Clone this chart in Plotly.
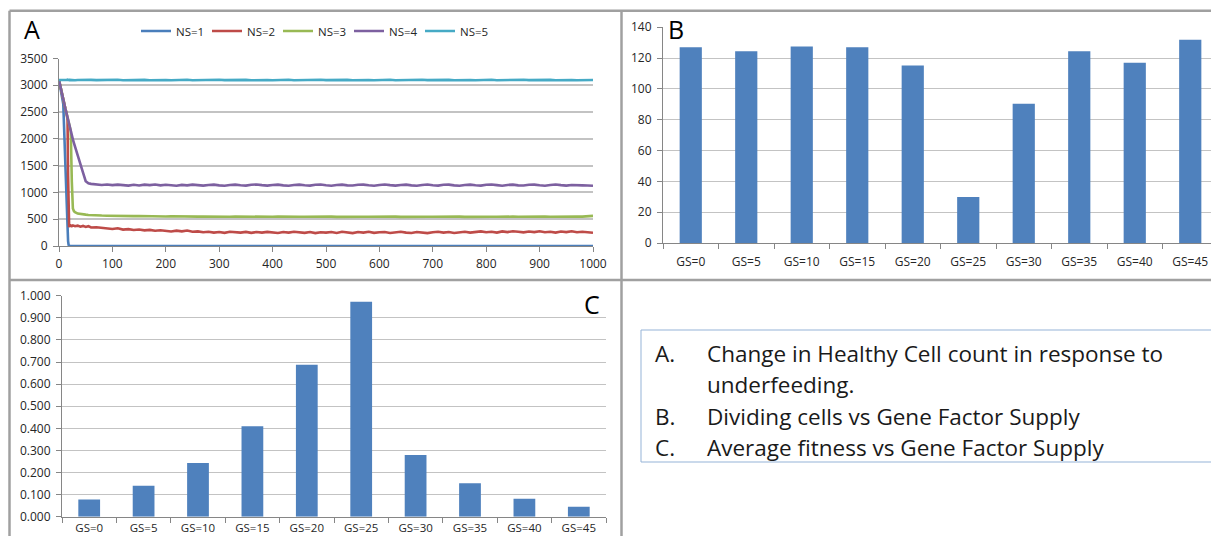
import plotly.graph_objects as go

# The page body keeps its default 8px margin, so the figure is sized to fit the 1219x544 window.
REF_W, REF_H = 1219, 544
OFF = 8
W, H = REF_W - 2 * OFF, REF_H - 2 * OFF

# ---------------- Panel A data ----------------
t_early = [0, 4, 8, 12, 14, 16, 17, 18, 19, 20, 22, 24, 26, 28, 30, 35, 40, 45, 50, 55, 60]
t_late = list(range(70, 1001, 10))
t_full = t_early + t_late

ns1_t = [0, 4, 8, 12, 14, 16, 17, 18, 19, 20, 1000]
ns1_v = [3100, 2900, 2650, 1500, 800, 250, 90, 20, 0, 0, 0]

ns2_early = [3100, 2900, 2720, 2560, 2480, 2350, 1300, 550, 350, 400, 380, 370, 385, 375, 370, 380, 360, 375, 355, 370, 345]
ns2_late = [350, 338, 326, 318, 330, 306, 314, 300, 308, 292,
            300, 286, 294, 280, 272, 286, 274, 290, 266, 272,
            256, 266, 250, 260, 246, 266, 254, 250, 264, 246,
            260, 250, 264, 254, 244, 260, 250, 266, 254, 246,
            260, 240, 256, 250, 260, 244, 266, 250, 240, 260,
            250, 266, 246, 256, 260, 244, 256, 266, 250, 244,
            260, 250, 240, 256, 266, 250, 260, 244, 256, 266,
            250, 262, 272, 256, 266, 250, 272, 260, 276, 266,
            254, 270, 260, 276, 256, 266, 250, 270, 260, 276,
            256, 266, 250, 246]

ns3_early = [3100, 2900, 2720, 2560, 2480, 2390, 2350, 2310, 2270, 2230, 2150, 1200, 700, 650, 630, 605, 595, 590, 585, 580, 575]
ns3_late = [572, 568, 566, 562, 564, 560, 562, 558, 560, 556,
            558, 554, 556, 552, 555, 551, 554, 550, 553, 549,
            552, 548, 551, 547, 550, 546, 549, 547, 550, 546,
            549, 545, 548, 546, 549, 545, 548, 544, 547, 545,
            548, 544, 547, 545, 548, 544, 547, 545, 548, 544,
            547, 545, 548, 544, 547, 545, 548, 544, 547, 545,
            548, 544, 547, 545, 548, 544, 547, 545, 548, 544,
            547, 545, 548, 544, 547, 545, 549, 545, 548, 546,
            549, 545, 548, 546, 550, 546, 549, 547, 551, 548,
            552, 549, 556, 562]

ns4_early = [3100, 2900, 2720, 2560, 2480, 2390, 2350, 2310, 2270, 2230, 2150, 2070, 1990, 1920, 1850, 1700, 1530, 1370, 1210, 1170, 1160]
ns4_late = [1150, 1140, 1148, 1136, 1146, 1134, 1128, 1142, 1130, 1146,
            1136, 1148, 1132, 1144, 1130, 1126, 1140, 1132, 1146, 1134,
            1128, 1140, 1146, 1132, 1126, 1138, 1146, 1134, 1128, 1142,
            1148, 1136, 1128, 1140, 1146, 1132, 1126, 1138, 1146, 1134,
            1128, 1142, 1148, 1134, 1126, 1140, 1146, 1132, 1128, 1142,
            1146, 1134, 1126, 1138, 1148, 1136, 1128, 1140, 1146, 1132,
            1126, 1140, 1148, 1134, 1128, 1142, 1146, 1132, 1126, 1138,
            1146, 1134, 1128, 1142, 1148, 1136, 1126, 1140, 1146, 1132,
            1128, 1142, 1146, 1134, 1126, 1138, 1148, 1136, 1128, 1140,
            1142, 1132, 1128, 1124]

ns5_early = [3100, 3096, 3102, 3095, 3099, 3104, 3097, 3101, 3095, 3100, 3098, 3103, 3096, 3100, 3094, 3099, 3102, 3096, 3100, 3097, 3101]
ns5_late = [3096, 3100, 3094, 3098, 3102, 3095, 3099, 3093, 3097, 3101,
            3095, 3099, 3103, 3096, 3094, 3100, 3097, 3102, 3095, 3098,
            3101, 3094, 3098, 3103, 3096, 3100, 3093, 3097, 3101, 3095,
            3099, 3102, 3096, 3094, 3100, 3097, 3103, 3095, 3098, 3101,
            3094, 3099, 3102, 3096, 3100, 3093, 3097, 3101, 3095, 3099,
            3103, 3096, 3094, 3100, 3097, 3102, 3095, 3098, 3101, 3094,
            3098, 3103, 3096, 3100, 3093, 3097, 3101, 3095, 3099, 3102,
            3096, 3094, 3100, 3097, 3103, 3095, 3098, 3101, 3094, 3099,
            3102, 3096, 3100, 3093, 3097, 3101, 3095, 3099, 3103, 3096,
            3094, 3100, 3097, 3098]

series_names = ["NS=1", "NS=2", "NS=3", "NS=4", "NS=5"]
series_colors = ["#4A7EBB", "#BE4B48", "#98B954", "#7D60A0", "#46AAC5"]

a_xticks = [0, 100, 200, 300, 400, 500, 600, 700, 800, 900, 1000]
a_yticks = [0, 500, 1000, 1500, 2000, 2500, 3000, 3500]

# ---------------- Panel B / C data ----------------
gs_labels = ["GS=0", "GS=5", "GS=10", "GS=15", "GS=20", "GS=25", "GS=30", "GS=35", "GS=40", "GS=45"]
dividing_cells = [127, 124.4, 127.5, 127, 115.1, 29.9, 90.3, 124.4, 116.9, 131.8]
avg_fitness = [0.078, 0.140, 0.243, 0.409, 0.688, 0.973, 0.279, 0.151, 0.081, 0.045]

caption_marks = ["A.", "", "B.", "C."]
caption_texts = ["Change in Healthy Cell count in response to", "underfeeding.",
                 "Dividing cells vs Gene Factor Supply", "Average fitness vs Gene Factor Supply"]

# reference pixel -> paper coordinate
def px(x):
    return (x - OFF) / W

def py(y):
    return 1 - (y - OFF) / H

FONT = "Open Sans"
TICK_COLOR = "#262626"
AXIS_COLOR = "#868686"
GRID_COLOR = "#c3c3c3"
BAR_COLOR = "#4F81BD"

# panel B spans reference x 663..1218 (10 categories); the window edge cuts it at 1211
B_LEFT, B_RIGHT = 663, 1218
B_CAT = (B_RIGHT - B_LEFT) / 10
B_VISIBLE_RIGHT = OFF + W
b_range_end = -0.5 + (B_VISIBLE_RIGHT - B_LEFT) / B_CAT

fig = go.Figure()

a_series = [
    (ns1_t, ns1_v),
    (t_full, ns2_early + ns2_late),
    (t_full, ns3_early + ns3_late),
    (t_full, ns4_early + ns4_late),
    (t_full, ns5_early + ns5_late),
]
for (tx, vy), name, col in zip(a_series, series_names, series_colors):
    fig.add_trace(go.Scatter(x=tx, y=vy, mode="lines", name=name,
                             line=dict(color=col, width=2.6),
                             xaxis="x", yaxis="y", showlegend=True))

fig.add_trace(go.Bar(x=gs_labels, y=dividing_cells, marker=dict(color=BAR_COLOR, line=dict(width=0)),
                     width=0.4, xaxis="x2", yaxis="y2", showlegend=False))
fig.add_trace(go.Bar(x=gs_labels, y=avg_fitness, marker=dict(color=BAR_COLOR, line=dict(width=0)),
                     width=0.4, xaxis="x3", yaxis="y3", showlegend=False))

tickfont = dict(family=FONT, size=12, color=TICK_COLOR)

common_axis = dict(showline=True, linecolor=AXIS_COLOR, linewidth=1, ticks="outside",
                   tickcolor=AXIS_COLOR, ticklen=5, zeroline=False,
                   fixedrange=True, automargin=False)

fig.update_layout(
    width=W, height=H,
    margin=dict(l=0, r=0, t=0, b=0, pad=0, autoexpand=False),
    paper_bgcolor="white", plot_bgcolor="rgba(0,0,0,0)",
    font=dict(family=FONT, color=TICK_COLOR),
    xaxis=dict(domain=[px(59), px(593)], range=[0, 1000], tickvals=a_xticks, showgrid=False,
               anchor="y", ticklabelstandoff=2, tickfont=tickfont, **common_axis),
    yaxis=dict(domain=[py(246), py(58.5)], range=[0, 3500], tickvals=a_yticks, showgrid=True,
               gridcolor=GRID_COLOR, gridwidth=2, anchor="x", ticklabelstandoff=3, tickfont=tickfont,
               **common_axis),
    xaxis2=dict(domain=[px(B_LEFT), 1], type="category", range=[-0.5, b_range_end], tickson="boundaries",
                showgrid=False, anchor="y2", ticklabelstandoff=8, tickfont=tickfont, **common_axis),
    yaxis2=dict(domain=[py(243), py(27.2)], range=[0, 140], dtick=20, showgrid=True,
                gridcolor=GRID_COLOR, gridwidth=1, anchor="x2", ticklabelstandoff=3, tickfont=tickfont,
                **common_axis),
    xaxis3=dict(domain=[px(62), px(606)], type="category", range=[-0.5, 9.5], tickson="boundaries",
                showgrid=False, anchor="y3", ticklabelstandoff=0,
                tickfont=dict(family=FONT, size=11.5, color=TICK_COLOR), **common_axis),
    yaxis3=dict(domain=[py(516.7), py(295.7)], range=[0, 1], dtick=0.1, tickformat=".3f", showgrid=True,
                gridcolor=GRID_COLOR, gridwidth=1, anchor="x3", ticklabelstandoff=3, tickfont=tickfont,
                **common_axis),
    legend=dict(orientation="h", x=px(136), y=py(31), xanchor="left", yanchor="middle",
                bgcolor="rgba(0,0,0,0)", borderwidth=0, font=dict(family=FONT, size=11.5, color=TICK_COLOR),
                entrywidth=26, entrywidthmode="pixels", tracegroupgap=0, itemwidth=30),
)

# panel borders
BORDER = "#a0a0a0"
shapes = [
    dict(type="line", xref="paper", yref="paper", x0=px(9.5), x1=1.01, y0=py(10.7), y1=py(10.7)),
    dict(type="line", xref="paper", yref="paper", x0=px(9.5), x1=px(9.5), y0=py(10.7), y1=-0.02),
    dict(type="line", xref="paper", yref="paper", x0=px(621.5), x1=px(621.5), y0=py(10.7), y1=-0.02),
    dict(type="line", xref="paper", yref="paper", x0=px(9.5), x1=1.01, y0=py(280), y1=py(280)),
]
for s in shapes:
    s["line"] = dict(color=BORDER, width=2.5)
# caption box
shapes.append(dict(type="rect", xref="paper", yref="paper", x0=px(641), x1=1.02, y0=py(462), y1=py(330),
                   line=dict(color="#95b3d7", width=1), fillcolor="rgba(0,0,0,0)"))
fig.update_layout(shapes=shapes)

# panel letters
letters = [("A", 32, 29), ("B", 676, 29), ("C", 592, 303.5)]
for txt, lx, ly in letters:
    fig.add_annotation(text=txt, x=px(lx), y=py(ly), xref="paper", yref="paper", showarrow=False,
                       xanchor="center", yanchor="middle", font=dict(family=FONT, size=25, color="black"))

# caption lines
cap_y = [353, 384, 416, 447]
for mark, txt, yy in zip(caption_marks, caption_texts, cap_y):
    if mark:
        fig.add_annotation(text=mark, x=px(653), y=py(yy), xref="paper", yref="paper", showarrow=False,
                           xanchor="left", yanchor="middle", font=dict(family=FONT, size=22.5, color="#1a1a1a"))
    fig.add_annotation(text=txt, x=px(705), y=py(yy), xref="paper", yref="paper", showarrow=False,
                       xanchor="left", yanchor="middle", font=dict(family=FONT, size=22.5, color="#1a1a1a"))

fig.write_html("out.html")
